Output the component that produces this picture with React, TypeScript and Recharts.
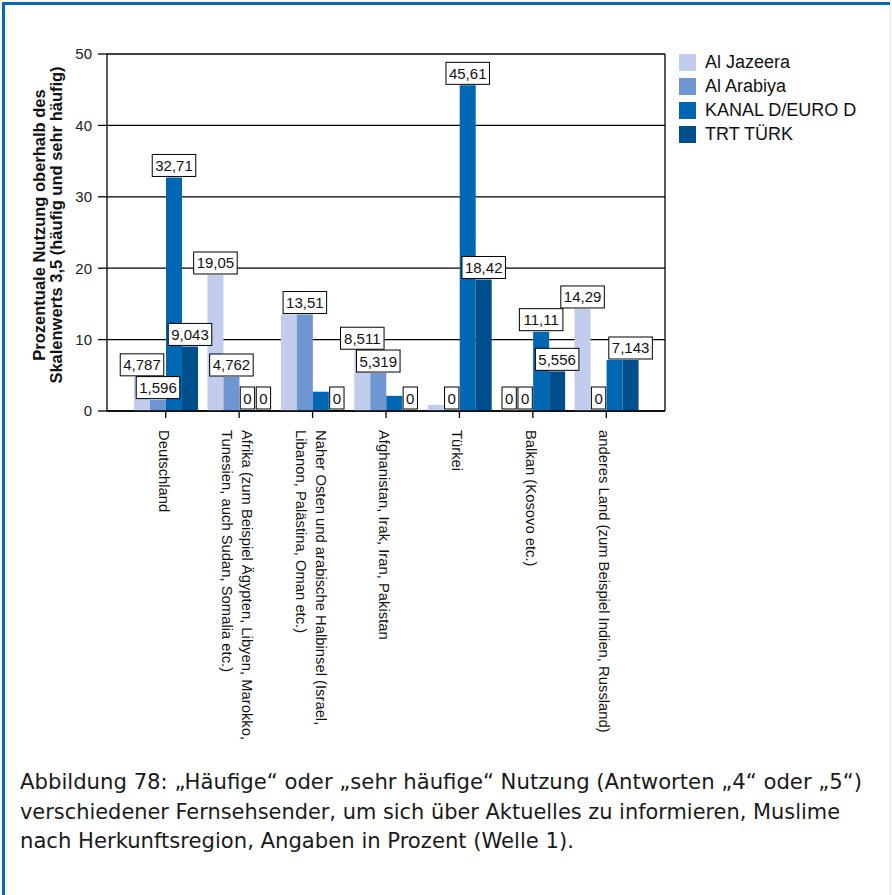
import React from "react";
import { BarChart, Bar, XAxis, YAxis, CartesianGrid, LabelList } from "recharts";

const categories = [
  "Deutschland",
  "Afrika (zum Beispiel Ägypten, Libyen, Marokko,\nTunesien, auch Sudan, Somalia etc.)",
  "Naher Osten und arabische Halbinsel (Israel,\nLibanon, Palästina, Oman etc.)",
  "Afghanistan, Irak, Iran, Pakistan",
  "Türkei",
  "Balkan (Kosovo etc.)",
  "anderes Land (zum Beispiel Indien, Russland)",
];

const alJazeera = [4.787, 19.05, 13.51, 8.511, 0.85, 0, 14.29];
const alArabiya = [1.596, 4.762, 13.51, 5.319, 0, 0, 0];
const kanalD = [32.71, 0, 2.703, 2.128, 45.61, 11.11, 7.143];
const trtTurk = [9.043, 0, 0, 0, 18.42, 5.556, 7.143];

const alJazeeraShown = [true, true, false, true, false, true, true];
const alArabiyaShown = [true, true, true, true, true, true, true];
const kanalDShown = [true, true, false, false, true, true, false];
const trtTurkShown = [true, true, true, true, true, true, true];

const seriesNames = ["Al Jazeera", "Al Arabiya", "KANAL D/EURO D", "TRT TÜRK"];
const seriesColors = ["#c2cdee", "#6f96d0", "#0067b3", "#004f8d"];

const yTicks = [0, 10, 20, 30, 40, 50];

const captionLines = [
  "Abbildung 78: „Häufige“ oder „sehr häufige“ Nutzung (Antworten „4“ oder „5“)",
  "verschiedener Fernsehsender, um sich über Aktuelles zu informieren, Muslime",
  "nach Herkunftsregion, Angaben in Prozent (Welle 1).",
];

const fmt = (v: number) => String(v).replace(".", ",");

const data = categories.map((name, i) => ({
  name,
  aj: alJazeera[i],
  aa: alArabiya[i],
  kd: kanalD[i],
  trt: trtTurk[i],
  ajLabel: alJazeeraShown[i] ? fmt(alJazeera[i]) : "",
  aaLabel: alArabiyaShown[i] ? fmt(alArabiya[i]) : "",
  kdLabel: kanalDShown[i] ? fmt(kanalD[i]) : "",
  trtLabel: trtTurkShown[i] ? fmt(trtTurk[i]) : "",
}));

const FONT = "'Liberation Sans', Arial, sans-serif";

const measure = (s: string, fs: number) =>
  s.split("").reduce((a, c) => a + (c === "," ? 0.278 : 0.556) * fs, 0);

const BoxLabel = (props: any) => {
  const { x, y, width, value } = props;
  const s = value == null ? "" : String(value);
  if (!s) return null;
  const fs = 15;
  const bw = measure(s, fs) + 6;
  const cx = Number(x) + Number(width) / 2;
  const top = Number(y) - 23;
  return (
    <g>
      <rect x={cx - bw / 2} y={top} width={bw} height={22} fill="#fff" stroke="#000" strokeWidth={1} />
      <text x={cx} y={top + 16.5} textAnchor="middle" fontSize={fs} fontFamily={FONT} fill="#111">
        {s}
      </text>
    </g>
  );
};

const XTick = (props: any) => {
  const { x, payload } = props;
  const lines = String(payload.value).split("\n");
  const n = lines.length;
  const lh = 20;
  return (
    <g transform={`translate(${x},430) rotate(90)`}>
      <text textAnchor="start" fontSize={14.8} fontFamily={FONT} fill="#111">
        {lines.map((l, i) => (
          <tspan key={i} x={0} y={7 + (i - (n - 1) / 2) * lh}>
            {l}
          </tspan>
        ))}
      </text>
    </g>
  );
};

const YLabel = () => {
  const cx = 47.5;
  const cy = 225;
  return (
    <text
      transform={`rotate(-90, ${cx}, ${cy})`}
      x={cx}
      y={cy}
      textAnchor="middle"
      fontSize={16.5}
      fontWeight="bold"
      fontFamily={FONT}
      fill="#111"
    >
      <tspan x={cx} y={cy - 3}>Prozentuale Nutzung oberhalb des</tspan>
      <tspan x={cx} y={cy + 14}>Skalenwerts 3,5 (häufig und sehr häufig)</tspan>
    </text>
  );
};

const LegendBox = () => (
  <div style={{ position: "absolute", left: 679, top: 50, fontFamily: FONT, fontSize: 18, color: "#111" }}>
    {seriesNames.map((n, i) => (
      <div key={n} style={{ display: "flex", alignItems: "center", height: 24 }}>
        <div style={{ width: 17, height: 17, background: seriesColors[i], marginRight: 9 }} />
        <span style={{ lineHeight: "24px", whiteSpace: "nowrap" }}>{n}</span>
      </div>
    ))}
  </div>
);

export default function App() {
  return (
    <div style={{ position: "absolute", left: 0, top: 0, width: 892, height: 895, background: "#fff", overflow: "hidden" }}>
      <div style={{ position: "absolute", left: 2, top: 2, width: 888, height: 3, background: "#0a69b2" }} />
      <div style={{ position: "absolute", left: 2, top: 2, width: 3, height: 893, background: "#0a69b2" }} />
      <div style={{ position: "absolute", left: 890, top: 5, width: 1, height: 890, background: "#e2e2e2" }} />
      <div style={{ position: "absolute", left: 0, top: 0 }}>
        <BarChart
          width={892}
          height={760}
          data={data}
          margin={{ top: 54, right: 0, left: 0, bottom: 0 }}
          barCategoryGap={5}
          barGap={0}
        >
          <CartesianGrid horizontal vertical={false} stroke="#000" strokeWidth={1.3} />
          <XAxis
            dataKey="name"
            interval={0}
            padding={{ left: 22, right: 22 }}
            height={349}
            tickSize={7}
            tickLine={{ stroke: "#000", strokeWidth: 1.3 }}
            axisLine={{ stroke: "#000", strokeWidth: 1.3 }}
            tick={<XTick />}
          />
          <YAxis
            domain={[0, 50]}
            ticks={yTicks}
            width={107}
            tickSize={9}
            tickMargin={6}
            tickLine={{ stroke: "#000", strokeWidth: 1.3 }}
            axisLine={{ stroke: "#000", strokeWidth: 1.3 }}
            tick={{ fontSize: 15, fontFamily: FONT, fill: "#222" }}
            label={<YLabel />}
          />
          <YAxis
            yAxisId="right"
            orientation="right"
            width={227}
            domain={[0, 50]}
            tick={false}
            tickLine={false}
            axisLine={{ stroke: "#000", strokeWidth: 1.3 }}
          />
          <Bar dataKey="aj" name={seriesNames[0]} fill={seriesColors[0]} minPointSize={1} isAnimationActive={false}>
            <LabelList dataKey="ajLabel" content={<BoxLabel />} />
          </Bar>
          <Bar dataKey="aa" name={seriesNames[1]} fill={seriesColors[1]} minPointSize={1} isAnimationActive={false}>
            <LabelList dataKey="aaLabel" content={<BoxLabel />} />
          </Bar>
          <Bar dataKey="kd" name={seriesNames[2]} fill={seriesColors[2]} minPointSize={1} isAnimationActive={false}>
            <LabelList dataKey="kdLabel" content={<BoxLabel />} />
          </Bar>
          <Bar dataKey="trt" name={seriesNames[3]} fill={seriesColors[3]} minPointSize={1} isAnimationActive={false}>
            <LabelList dataKey="trtLabel" content={<BoxLabel />} />
          </Bar>
        </BarChart>
      </div>
      <LegendBox />
      <svg style={{ position: "absolute", left: 0, top: 760 }} width={892} height={135}>
        {captionLines.map((l, i) => (
          <text
            key={i}
            x={20}
            y={29 + i * 29.5}
            fontSize={22}
            fontFamily="'DejaVu Sans Condensed', 'Liberation Sans Narrow', sans-serif"
            fill="#1a1a1a"
            textLength={[842, 820, 554][i]}
            lengthAdjust="spacingAndGlyphs"
          >
            {l}
          </text>
        ))}
      </svg>
    </div>
  );
}
